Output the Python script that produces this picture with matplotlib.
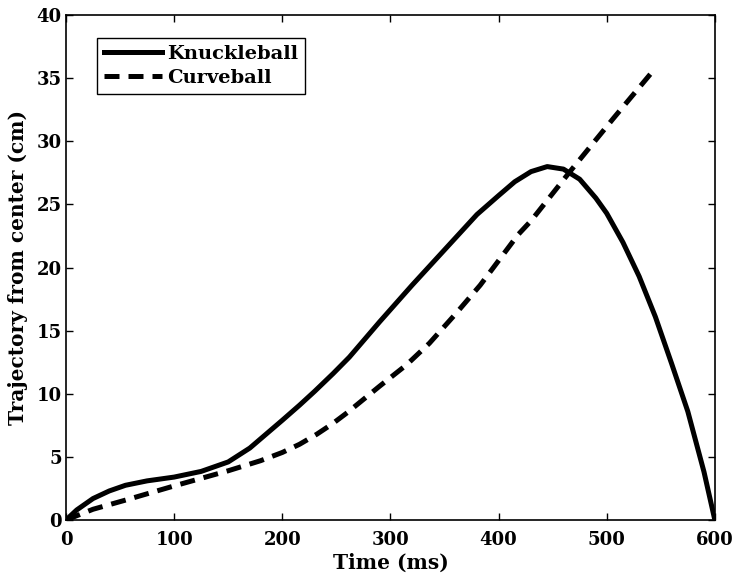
import matplotlib
matplotlib.use('Agg')
import matplotlib.pyplot as plt

# knuckleball trajectory (time in ms, offset in cm)
knuckle_t = [0, 10, 25, 40, 55, 75, 100, 125, 150, 170, 185, 200, 216, 230, 247, 262, 290, 320,
             350, 380, 400, 415, 430, 445, 460, 475, 490, 500, 515, 530, 545, 560, 575, 590, 600]
knuckle_y = [0, 0.8, 1.7, 2.3, 2.75, 3.1, 3.4, 3.85, 4.6, 5.7, 6.8, 7.9, 9.1, 10.2, 11.6, 12.9, 15.7, 18.6,
             21.4, 24.2, 25.7, 26.8, 27.6, 28.0, 27.8, 27.0, 25.5, 24.3, 22.0, 19.3, 16.1, 12.4, 8.6, 3.8, 0]

# curveball trajectory
curve_t = [0, 25, 56, 100, 150, 180, 200, 216, 232, 246, 260, 290, 315, 336, 360, 383, 418, 430, 466, 506, 545]
curve_y = [0, 0.85, 1.6, 2.7, 3.9, 4.7, 5.35, 6.0, 6.8, 7.6, 8.5, 10.6, 12.3, 14.0, 16.3, 18.6, 22.6, 23.7, 27.6, 31.8, 35.8]

xticks = [0, 100, 200, 300, 400, 500, 600]
yticks = [0, 5, 10, 15, 20, 25, 30, 35, 40]

plt.rcParams['font.family'] = ['DejaVu Serif']
plt.rcParams['font.weight'] = 'bold'

fig = plt.figure(figsize=(7.34, 5.79), dpi=100)
ax = fig.add_axes([0.0899, 0.1019, 0.884, 0.872])

ax.plot(knuckle_t, knuckle_y, color='black', lw=3.6, label='Knuckleball')
ax.plot(curve_t, curve_y, color='black', lw=3.6, dashes=(3, 1.8), label='Curveball')

ax.set_xlim(0, 600)
ax.set_ylim(0, 40)
ax.set_xticks(xticks)
ax.set_yticks(yticks)
ax.tick_params(direction='in', top=True, right=True, length=5, width=1, labelsize=13, pad=3)
ax.tick_params(axis='x', pad=8)
for s in ax.spines.values():
    s.set_linewidth(1.2)

ax.set_xlabel('Time (ms)', fontsize=14.5, fontweight='bold', labelpad=3)
ax.set_ylabel('Trajectory from center (cm)', fontsize=14.5, fontweight='bold', labelpad=6)

leg = ax.legend(loc='upper left', bbox_to_anchor=(0.048, 0.954), borderaxespad=0,
                handlelength=3, fancybox=False, edgecolor='black', framealpha=1,
                borderpad=0.35, labelspacing=0.3, handletextpad=0.25,
                prop={'size': 14, 'weight': 'bold'})
leg.get_frame().set_linewidth(1)

fig.savefig('out.png', dpi=100)
